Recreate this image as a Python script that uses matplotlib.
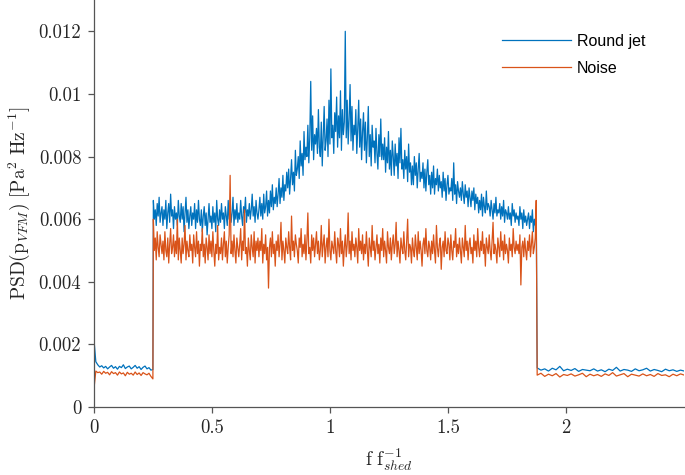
import numpy as np
import matplotlib
matplotlib.use('Agg')
import matplotlib.pyplot as plt

plt.rcParams['mathtext.fontset'] = 'cm'
plt.rcParams['axes.unicode_minus'] = False

# values in units of 1e-3 Pa^2/Hz
# low band 0 - 0.25
jet_low = [2.2, 1.45, 1.35, 1.28, 1.32, 1.25, 1.30, 1.22, 1.28, 1.33, 1.24, 1.29, 1.21, 1.30, 1.26, 1.35,
           1.23, 1.28, 1.31, 1.22, 1.27, 1.33, 1.24, 1.29, 1.20, 1.27, 1.31, 1.22, 1.26, 1.18, 1.2]
noise_low = [0.55, 1.15, 1.10, 1.12, 1.05, 1.14, 1.08, 1.11, 1.03, 1.13, 1.07, 1.10, 1.02, 1.12, 1.06, 1.09,
             1.00, 1.11, 1.05, 1.08, 1.02, 1.12, 1.04, 1.09, 1.01, 1.10, 1.06, 1.03, 1.08, 0.98, 0.9]

# band 0.25 - 1.875
jet_mid = [
    6.6, 6.0, 6.3, 5.8, 6.5, 6.1, 6.7, 5.9, 6.2, 6.4,
    5.8, 6.3, 6.0, 6.6, 5.7, 6.2, 6.5, 5.9, 6.8, 6.1,
    6.3, 5.7, 6.4, 6.0, 6.2, 5.8, 6.6, 6.1, 5.9, 6.5,
    6.0, 6.4, 5.6, 6.2, 6.7, 5.9, 6.3, 5.7, 6.1, 6.4,
    5.8, 6.2, 6.0, 6.5, 5.7, 6.3, 5.9, 6.6, 6.0, 5.8,
    6.3, 5.6, 6.1, 6.4, 5.8, 6.2, 5.5, 6.0, 6.5, 5.9,
    6.1, 5.7, 6.4, 5.9, 6.2, 5.6, 6.6, 6.0, 5.8, 6.3,
    5.9, 6.5, 6.0, 6.2, 5.7, 6.4, 6.1, 5.8, 6.6, 6.0,
    6.4, 5.9, 6.2, 6.7, 5.8, 6.3, 6.0, 6.5, 5.9, 6.2,
    6.0, 6.6, 6.1, 5.8, 6.4, 6.2, 6.7, 5.9, 6.3, 6.1,
    6.5, 6.0, 6.3, 6.8, 6.1, 6.4, 5.9, 6.6, 6.2, 6.0,
    6.3, 6.7, 6.1, 6.5, 6.0, 6.8, 6.2, 6.4, 6.9, 6.1,
    6.6, 6.2, 6.9, 6.4, 7.1, 6.3, 6.7, 6.5, 7.0, 6.4,
    6.8, 7.3, 6.5, 7.0, 6.7, 7.4, 6.6, 7.1, 6.9, 7.5,
    7.0, 7.6, 6.8, 7.3, 7.9, 7.1, 7.5, 6.9, 8.2, 7.4,
    7.6, 8.0, 7.3, 8.5, 7.7, 8.1, 7.4, 8.8, 7.9, 8.3,
    8.0, 9.0, 7.8, 8.6, 10.4, 8.2, 9.3, 7.9, 8.7, 8.4,
    8.9, 8.1, 9.5, 8.3, 8.0, 9.1, 7.7, 8.6, 9.6, 8.2,
    8.5, 9.2, 8.0, 9.8, 8.4, 10.8, 8.6, 9.0, 8.1, 9.4,
    8.8, 9.9, 8.3, 9.3, 8.6, 10.1, 8.2, 9.5, 8.7, 9.1,
    12.0, 8.6, 9.8, 8.4, 9.2, 10.3, 8.5, 9.6, 8.2, 9.0,
    8.7, 9.5, 8.1, 8.9, 9.8, 8.3, 9.2, 7.9, 8.8, 9.4,
    8.2, 9.1, 7.8, 8.6, 9.6, 8.0, 8.7, 7.7, 9.0, 8.3,
    8.5, 7.8, 8.9, 8.1, 7.6, 8.7, 8.0, 9.2, 7.9, 8.4,
    7.9, 8.6, 7.5, 8.3, 7.8, 8.8, 7.6, 8.2, 7.4, 8.5,
    8.0, 7.4, 8.4, 7.7, 8.1, 7.3, 8.6, 7.8, 8.9, 7.6,
    7.9, 7.3, 8.2, 7.6, 8.0, 7.2, 8.4, 7.5, 7.8, 7.1,
    7.7, 7.1, 8.0, 7.4, 7.8, 7.0, 7.6, 8.1, 7.2, 7.5,
    7.3, 7.8, 7.0, 7.6, 6.9, 7.5, 7.9, 7.1, 7.4, 6.8,
    7.5, 7.0, 7.7, 6.8, 7.3, 7.1, 7.6, 6.9, 7.4, 7.0,
    7.2, 6.7, 7.5, 6.9, 7.3, 6.6, 7.1, 7.4, 6.8, 7.0,
    6.9, 7.3, 6.6, 7.8, 6.8, 7.1, 6.5, 7.2, 6.9, 6.7,
    7.0, 6.6, 7.2, 6.8, 6.5, 7.1, 6.7, 6.9, 6.4, 7.0,
    6.7, 6.4, 6.9, 6.6, 7.0, 6.3, 6.8, 6.5, 6.7, 6.2,
    6.6, 6.3, 6.8, 6.1, 6.7, 6.4, 6.2, 6.9, 6.3, 6.5,
    6.4, 6.1, 6.6, 6.3, 6.0, 6.5, 6.2, 6.7, 6.1, 6.3,
    6.2, 6.5, 6.0, 6.4, 6.1, 6.6, 5.9, 6.3, 6.2, 6.0,
    6.4, 6.0, 6.2, 5.8, 6.5, 6.1, 6.3, 5.9, 6.2, 6.0,
    6.1, 5.8, 6.4, 6.0, 6.2, 5.7, 6.3, 5.9, 6.1, 5.8,
    6.0, 6.2, 5.7, 6.1, 5.9, 6.3, 5.6, 6.0, 5.8, 6.3]
noise_mid = [
    6.0, 5.0, 5.4, 4.7, 5.6, 5.1, 4.8, 5.5, 5.2, 4.9,
    5.3, 4.7, 5.6, 5.0, 4.8, 5.4, 4.6, 5.2, 5.7, 4.9,
    5.1, 5.5, 4.8, 5.3, 4.9, 6.0, 4.7, 5.4, 5.0, 4.6,
    5.4, 4.9, 5.2, 5.8, 4.7, 5.3, 5.0, 4.8, 5.5, 5.0,
    5.2, 4.6, 5.5, 5.1, 4.8, 5.6, 4.9, 5.3, 4.5, 5.2,
    5.0, 5.7, 4.8, 5.2, 4.6, 5.4, 5.1, 4.7, 5.5, 4.9,
    5.3, 4.8, 5.6, 5.0, 4.5, 5.2, 4.9, 5.8, 4.7, 5.1,
    4.9, 5.4, 4.7, 5.2, 5.6, 4.8, 5.3, 4.6, 5.1, 5.5,
    7.4, 4.9, 5.3, 4.8, 5.5, 5.0, 4.6, 5.4, 5.1, 4.8,
    5.2, 5.7, 4.7, 5.3, 5.0, 6.3, 4.9, 5.1, 4.5, 5.4,
    5.0, 4.7, 5.5, 5.1, 4.8, 5.6, 4.6, 5.3, 5.0, 5.4,
    4.8, 5.3, 5.0, 5.7, 4.6, 5.2, 4.9, 5.5, 4.7, 5.1,
    3.8, 5.1, 5.4, 4.8, 5.6, 4.9, 5.2, 4.5, 5.3, 5.0,
    5.5, 4.8, 5.2, 5.9, 4.7, 5.3, 5.0, 4.6, 5.4, 5.1,
    4.9, 5.6, 5.1, 4.7, 6.1, 5.0, 5.3, 4.8, 5.5, 5.2,
    5.0, 4.6, 5.4, 5.1, 5.7, 4.8, 5.2, 4.9, 5.5, 4.7,
    5.3, 6.2, 4.9, 5.1, 4.6, 5.5, 5.0, 5.4, 4.8, 5.2,
    5.6, 4.9, 5.3, 4.7, 5.0, 5.8, 4.8, 5.2, 5.5, 4.6,
    5.1, 5.4, 4.8, 6.0, 5.0, 4.7, 5.3, 5.1, 4.9, 5.6,
    5.0, 4.6, 5.4, 5.2, 4.8, 5.7, 4.9, 5.3, 4.5, 5.1,
    5.5, 4.8, 5.2, 6.2, 4.9, 5.3, 4.7, 5.6, 5.0, 5.2,
    4.8, 5.4, 5.1, 4.6, 5.7, 5.0, 5.3, 4.9, 5.5, 4.7,
    5.2, 4.9, 5.6, 5.0, 4.5, 5.4, 5.1, 4.8, 5.8, 5.0,
    5.3, 4.7, 5.1, 5.5, 4.9, 5.2, 4.6, 5.4, 5.0, 5.7,
    4.8, 5.3, 5.0, 4.6, 5.6, 5.1, 4.9, 5.4, 4.7, 5.2,
    5.5, 4.9, 5.2, 5.9, 4.8, 5.3, 5.0, 4.6, 5.4, 5.1,
    4.9, 5.6, 5.0, 4.7, 5.3, 6.0, 4.8, 5.2, 5.1, 4.6,
    5.4, 5.0, 4.8, 5.5, 5.1, 4.7, 5.6, 4.9, 5.3, 5.0,
    4.5, 5.2, 5.4, 4.9, 5.7, 5.0, 4.8, 5.3, 5.1, 4.7,
    5.3, 4.9, 5.5, 5.0, 4.6, 5.8, 5.1, 4.8, 5.2, 5.4,
    4.4, 5.1, 5.3, 4.8, 5.6, 5.0, 4.9, 5.4, 5.2, 4.7,
    5.5, 5.0, 4.7, 5.3, 5.1, 5.7, 4.8, 5.2, 4.9, 5.4,
    5.0, 4.6, 5.4, 5.1, 4.8, 5.8, 5.0, 5.3, 4.7, 5.2,
    5.4, 4.9, 5.1, 4.6, 5.5, 5.0, 5.3, 4.8, 5.7, 5.1,
    4.8, 5.3, 5.0, 5.6, 4.9, 5.2, 4.5, 5.4, 5.1, 4.9,
    5.5, 5.0, 4.7, 5.3, 5.9, 4.9, 5.2, 5.0, 4.6, 5.4,
    5.1, 4.8, 5.6, 5.0, 5.3, 4.7, 5.5, 4.9, 5.2, 5.0,
    4.6, 5.4, 5.0, 5.2, 4.8, 5.7, 5.1, 4.9, 5.3, 5.0,
    5.2, 4.9, 5.5, 3.9, 5.1, 5.3, 4.8, 5.4, 5.0, 4.7,
    5.3, 5.0, 5.5, 4.8, 5.2, 5.6, 4.9, 5.1, 5.4, 6.6]

# high band 1.875 - 2.5
jet_high = [1.25, 1.18, 1.22, 1.15, 1.24, 1.19, 1.30, 1.16, 1.21, 1.17, 1.23, 1.14, 1.20, 1.18,
            1.16, 1.22, 1.15, 1.19, 1.13, 1.21, 1.17, 1.27, 1.15, 1.20, 1.18, 1.14, 1.22, 1.16,
            1.19, 1.24, 1.15, 1.20, 1.17, 1.13, 1.21, 1.16, 1.19, 1.14, 1.18, 1.15]
noise_high = [1.02, 1.08, 0.98, 1.05, 1.00, 1.07, 0.96, 1.04, 1.01, 1.06, 0.99, 1.03, 1.08, 0.97,
              1.05, 1.00, 1.04, 0.98, 1.06, 1.01, 1.10, 0.99, 1.03, 1.07, 0.97, 1.05, 1.02, 0.99,
              1.06, 1.00, 1.04, 0.98, 1.07, 1.01, 1.03, 0.97, 1.05, 1.00, 1.06, 1.02]

# frequency bins (f / f_shed)
f = np.concatenate([np.linspace(0, 0.25, len(jet_low)),
                    np.linspace(0.252, 1.873, len(jet_mid)),
                    np.linspace(1.877, 2.5, len(jet_high))])
psd_jet = np.array(jet_low + jet_mid + jet_high) * 1e-3
psd_noise = np.array(noise_low + noise_mid + noise_high) * 1e-3

fig = plt.figure(figsize=(6.85, 4.75), dpi=100)
ax = fig.add_axes([0.137, 0.143, 0.862, 0.857])

ax.plot(f, psd_jet, color='#0072BD', lw=0.9, label='Round jet')
ax.plot(f, psd_noise, color='#D95319', lw=0.9, label='Noise')

ax.set_xlim(0, 2.5)
ax.set_ylim(0, 0.013)
ax.set_xticks([0, 0.5, 1, 1.5, 2])
ax.set_xticklabels(['0', '0.5', '1', '1.5', '2'])
ax.set_yticks([0, 0.002, 0.004, 0.006, 0.008, 0.01, 0.012])
ax.set_yticklabels(['0', '0.002', '0.004', '0.006', '0.008', '0.01', '0.012'])

for lab in ax.get_xticklabels() + ax.get_yticklabels():
    lab.set_family('cmr10')
    lab.set_fontsize(13.5)
    lab.set_color('#262626')

ax.spines['top'].set_visible(False)
ax.spines['right'].set_visible(False)
for s in ['left', 'bottom']:
    ax.spines[s].set_color('#555555')
    ax.spines[s].set_linewidth(0.9)
ax.tick_params(direction='out', length=4, width=0.9, color='#555555', pad=5)

ax.set_ylabel(r'$\mathrm{PSD(p}_{VFM}\mathrm{)}\ [\mathrm{Pa}^2\ \mathrm{Hz}^{-1}]$',
              fontsize=14, color='#262626', labelpad=5)
ax.set_xlabel(r'$\mathrm{f}\ \mathrm{f}_{shed}^{-1}$', fontsize=14, color='#262626', labelpad=6)

leg = ax.legend(loc='upper left', bbox_to_anchor=(494 / 685, 1 - 26 / 475),
                bbox_transform=fig.transFigure, frameon=False, borderpad=0,
                prop={'family': 'Liberation Sans', 'size': 11.5}, handlelength=4.3,
                handletextpad=0.4, labelspacing=0.75)

fig.savefig('out.png', dpi=100)
